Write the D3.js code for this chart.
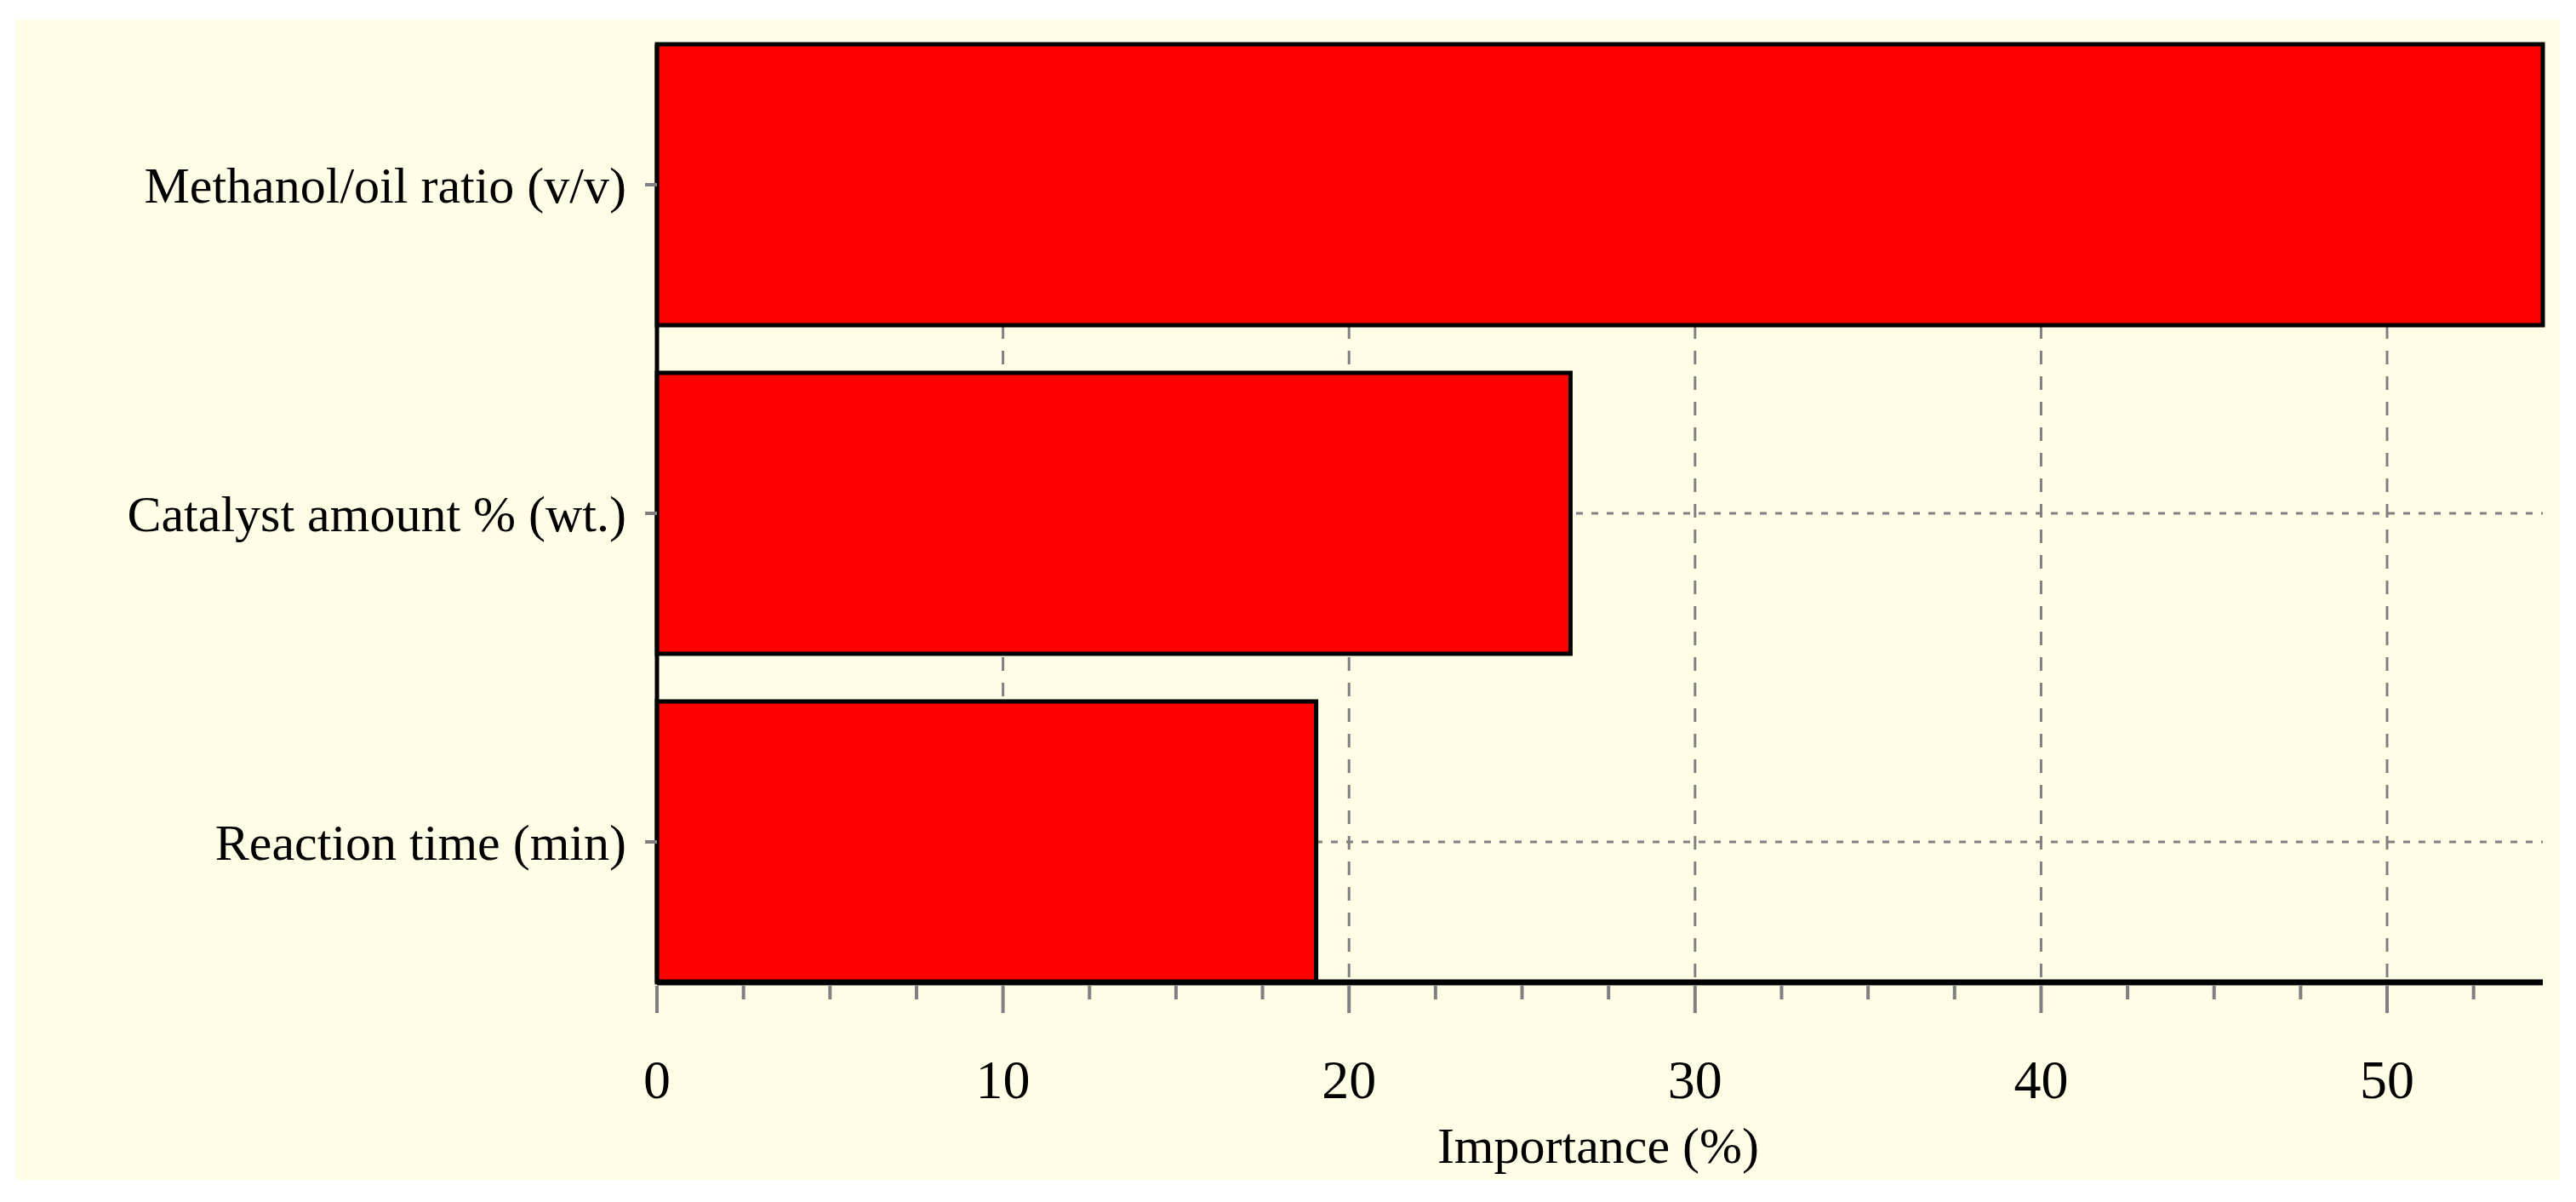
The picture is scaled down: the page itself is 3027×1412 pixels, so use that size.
<!DOCTYPE html>
<html><head><meta charset="utf-8">
<script src="https://cdn.jsdelivr.net/npm/d3@7"></script>
<style>body{margin:0;background:#fff;} text{font-family:"Liberation Serif","Times New Roman",serif;fill:#000;}</style>
</head><body><div id="chart"></div>
<script>
var categories = ["Methanol/oil ratio (v/v)", "Catalyst amount % (wt.)", "Reaction time (min)"];
var importance = [54.5, 26.4, 19.05];
var xTicks = [0, 10, 20, 30, 40, 50];

var W = 3027, H = 1412;
var margin = {top: 52, right: 39, bottom: 258, left: 772};
var width = W - margin.left - margin.right,
    height = H - margin.top - margin.bottom;

var svg = d3.select("#chart").append("svg").attr("width", W).attr("height", H);
svg.append("rect").attr("x", 19).attr("y", 23).attr("width", 2989).attr("height", 1363).attr("fill", "#fffde6");

var g = svg.append("g").attr("transform", "translate(" + margin.left + "," + margin.top + ")");

var x = d3.scaleLinear().domain([0, 54.5]).range([0, width]);
var y = d3.scaleBand().domain(categories).range([0, height]).paddingInner(0.145).paddingOuter(0);

// grid
g.selectAll(".vgrid").data(xTicks.slice(1)).enter().append("line")
    .attr("x1", x).attr("x2", x).attr("y1", 0).attr("y2", height)
    .attr("stroke", "#808080").attr("stroke-width", 3).attr("stroke-dasharray", "16,14");
g.selectAll(".hgrid").data(categories).enter().append("line")
    .attr("x1", 0).attr("x2", width)
    .attr("y1", function(d) { return y(d) + y.bandwidth() / 2; })
    .attr("y2", function(d) { return y(d) + y.bandwidth() / 2; })
    .attr("stroke", "#808080").attr("stroke-width", 3).attr("stroke-dasharray", "8,10");

// bars
g.selectAll(".bar").data(categories).enter().append("rect")
    .attr("x", 0).attr("y", function(d) { return y(d); })
    .attr("width", function(d, i) { return x(importance[i]); })
    .attr("height", y.bandwidth())
    .attr("fill", "#ff0000").attr("stroke", "#000").attr("stroke-width", 5);

// axes frame
g.append("line").attr("x1", 0).attr("x2", width).attr("y1", height).attr("y2", height).attr("stroke", "#000").attr("stroke-width", 7);
g.append("line").attr("x1", 0).attr("x2", 0).attr("y1", 0).attr("y2", height).attr("stroke", "#000").attr("stroke-width", 5);

// x ticks
var minor = d3.range(0, 55, 2.5);
g.selectAll(".mt").data(minor).enter().append("line")
    .attr("x1", x).attr("x2", x).attr("y1", height + 4)
    .attr("y2", function(d) { return height + (d % 10 === 0 ? 36 : 20); })
    .attr("stroke", "#808080").attr("stroke-width", 4);
g.selectAll(".tl").data(xTicks).enter().append("text")
    .attr("x", x).attr("y", height + 136).attr("text-anchor", "middle")
    .attr("font-size", 64).text(function(d) { return d; });

g.append("text").attr("x", x(27.2)).attr("y", height + 212).attr("text-anchor", "middle")
    .attr("font-size", 60).text("Importance (%)");

// y labels and small ticks
g.selectAll(".yl").data(categories).enter().append("text")
    .attr("x", -36).attr("y", function(d) { return y(d) + y.bandwidth() / 2; })
    .attr("dy", "0.35em").attr("text-anchor", "end").attr("font-size", 60)
    .text(function(d) { return d; });
g.selectAll(".yt").data(categories).enter().append("line")
    .attr("x1", -14).attr("x2", 0)
    .attr("y1", function(d) { return y(d) + y.bandwidth() / 2; })
    .attr("y2", function(d) { return y(d) + y.bandwidth() / 2; })
    .attr("stroke", "#808080").attr("stroke-width", 4);
</script></body></html>
